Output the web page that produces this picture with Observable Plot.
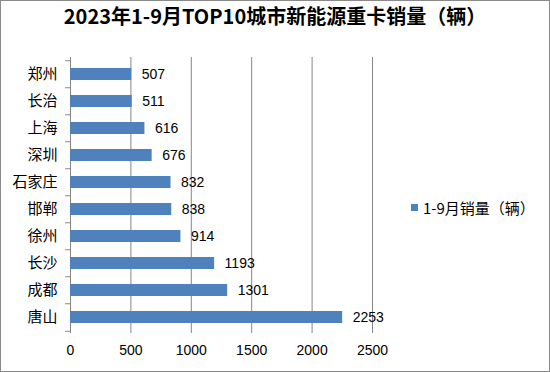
<!DOCTYPE html>
<html><head><meta charset="utf-8">
<script src="https://cdn.jsdelivr.net/npm/d3@7"></script>
<script src="https://cdn.jsdelivr.net/npm/@observablehq/plot@0.6"></script>
<style>
body{margin:0;background:#fff;}
#wrap{position:relative;width:550px;height:372px;box-sizing:border-box;border:1px solid #8a8a8a;background:#fff;overflow:hidden;}
#title{height:44px;line-height:46px;text-align:center;font:bold 20px "Noto Sans CJK SC",sans-serif;color:#000;}
#legend{position:absolute;left:410px;top:196px;font:15px "Noto Sans CJK SC",sans-serif;color:#000;display:flex;align-items:center;}
#legend span.sw{display:inline-block;width:7px;height:7px;background:#4f81bd;margin-right:5px;}
svg{display:block;}
</style></head>
<body><div id="wrap"><div id="title">2023年1-9月TOP10城市新能源重卡销量（辆）</div><div id="chart"></div>
<div id="legend"><span class="sw"></span><span>1-9月销量（辆）</span></div></div>
<script>
const cities = ["郑州","长治","上海","深圳","石家庄","邯郸","徐州","长沙","成都","唐山"];
const sales = [507,511,616,676,832,838,914,1193,1301,2253];
const xTicks = [0,500,1000,1500,2000,2500];
const data = cities.map((c,i)=>({city:c, value:sales[i]}));
const step = 27.5;
const chart = Plot.plot({
  width:548, height:326,
  marginLeft:69, marginRight:177, marginTop:12, marginBottom:38,
  x:{domain:[0,2500], ticks:xTicks},
  y:{domain:cities, paddingInner:0.57, paddingOuter:0.285, label:null},
  style:{fontFamily:"'Noto Sans CJK SC',sans-serif", color:"#000"},
  marks:[
    Plot.gridX(xTicks.slice(1), {stroke:"#868686", strokeOpacity:1}),
    Plot.ruleX([0], {stroke:"#868686"}),
    Plot.ruleY(cities, {y:d=>d, x1:-40, x2:0, dy:-step/2, stroke:"#868686"}),
    Plot.ruleY(cities.slice(-1), {y:d=>d, x1:-40, x2:0, dy:step/2, stroke:"#868686"}),
    Plot.barX(data, {y:"city", x:"value", fill:"#4f81bd"}),
    Plot.text(data, {y:"city", x:"value", text:d=>String(d.value), textAnchor:"start", dx:10, fontSize:14, fontFamily:"'Liberation Sans',sans-serif", fill:"#000"}),
    Plot.axisY({tickSize:0, tickPadding:13, fontSize:15, label:null}),
    Plot.axisX(xTicks, {tickSize:0, tickPadding:12, fontSize:14, tickFormat:d=>String(d), fontFamily:"'Liberation Sans',sans-serif", label:null})
  ]
});
document.getElementById("chart").appendChild(chart);
</script></body></html>
